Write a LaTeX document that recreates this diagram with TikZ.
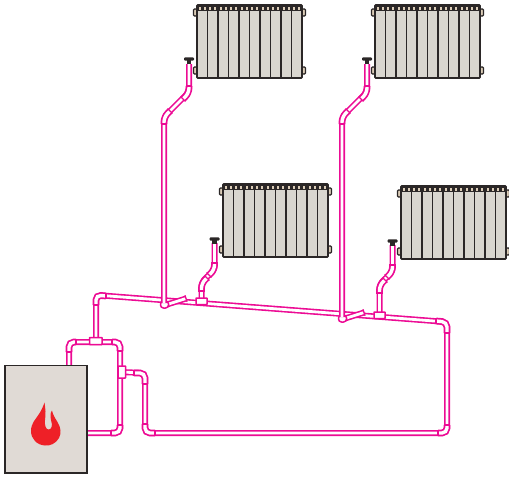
\documentclass[tikz,border=0pt]{standalone}
\usepackage{xcolor}
\definecolor{pipepink}{HTML}{EC0B94}
\definecolor{radgrey}{HTML}{D9D6CF}
\definecolor{lugtan}{HTML}{DCCDB8}
\definecolor{boilergrey}{HTML}{E0DAD5}
\definecolor{flamered}{HTML}{EE2027}
\definecolor{ironblack}{HTML}{2B2727}
\tikzset{
  pipe/.style={draw=pipepink, line width=1.6pt, double=white, double distance=2.8pt, rounded corners=5pt},
  fitting/.style={draw=pipepink, line width=1.7pt, double=white, double distance=3.4pt, rounded corners=5pt},
  pipetick/.style={draw=pipepink, line width=1.3pt},
  tee/.style={draw=pipepink, fill=white, line width=1.5pt, rounded corners=0.5pt},
  lug/.style={draw=ironblack, fill=lugtan, line width=1.2pt, rounded corners=1pt}
}
\begin{document}
\begin{tikzpicture}[x=1pt, y=-1pt]
  \useasboundingbox (0,0) rectangle (509,479);

  % supply from the boiler
  \draw[pipe] (69,366) -- (69,342) -- (120,342) -- (120,433) -- (86,433);
  \draw[pipe] (96,341) -- (96,295) -- (447,322) -- (447,433) -- (145,433) -- (145,373) -- (120,372);

  % tall risers
  \foreach \dx/\yb in {0/305, 178/319} {
    \draw[pipe] ({\dx+167},{\yb-0.5}) -- ({\dx+186},{\yb-6.5});
    \draw[tee, rounded corners=3pt] ({\dx+160.5},{\yb-4}) rectangle ({\dx+168.5},{\yb+3});
    \draw[pipe] ({\dx+189},64) -- ({\dx+189},92) -- ({\dx+164},117) -- ({\dx+164},{\yb-2});
    \draw[fitting] ({\dx+189},86) -- ({\dx+189},93) -- ({\dx+183},99);
    \draw[fitting] ({\dx+170},111) -- ({\dx+164},117) -- ({\dx+164},124);
  }

  % short risers
  \foreach \dx/\dy/\dt in {0/0/0, 178/14/2} {
    \draw[pipe] ({\dx+201.5},{\dy+301}) -- ({\dx+201.5},{\dt+282}) -- ({\dx+214.5},{\dt+270}) -- ({\dx+214.5},{\dt+243});
    \draw[fitting] ({\dx+201.5},{\dt+291}) -- ({\dx+201.5},{\dt+283}) -- ({\dx+207},{\dt+278});
    \draw[fitting] ({\dx+209},{\dt+275}) -- ({\dx+214.5},{\dt+270}) -- ({\dx+214.5},{\dt+263});
    \draw[tee] ({\dx+196},{\dy+298}) rectangle ({\dx+207},{\dy+304.5});
  }

  % elbows on the loop
  \draw[fitting] (96,305) -- (96,295) -- (106,296);
  \draw[fitting] (436,321) -- (447,322) -- (447,333);
  \draw[fitting] (447,425) -- (447,433) -- (438,433);
  \draw[fitting] (155,433) -- (145,433) -- (145,424);
  \draw[fitting] (145,384) -- (145,373) -- (134,373);
  \draw[fitting] (69,352) -- (69,342) -- (76,342);
  \draw[fitting] (112,342) -- (120,342) -- (120,351);
  \draw[fitting] (120,425) -- (120,433) -- (111,433);

  % tees
  \draw[tee] (89.5,337.5) rectangle (102,344.5);
  \draw[tee] (118,366) rectangle (125.5,378);

  \foreach \tx/\ty/\ta in {96/305/0, 106/296/90, 436/321/90, 447/333/0, 447/425/0, 438/433/90,
      155/433/90, 145/424/0, 145/384/0, 134/373/90, 69/352/0, 76/342/90, 112/342/90, 120/351/0,
      120/425/0, 111/433/90, 189/86/0, 183/99/-45, 170/111/-45, 164/124/0, 186/298.5/-72,
      367/86/0, 361/99/-45, 348/111/-45, 342/124/0, 364/312.5/-72,
      201.5/291/0, 207/278/-45, 209/275/-45, 214.5/263/0,
      379.5/293/0, 385/280/-45, 387/277/-45, 392.5/265/0} {
    \draw[pipetick, shift={(\tx,\ty)}, rotate=\ta] (-3.4,0) -- (3.4,0);
  }

  % radiators
  \foreach \rx/\ry in {197/5, 375/5, 223/184, 401/186} {
    \begin{scope}[shift={(\rx,\ry)}]
      \foreach \ly in {4, 62} {
        \draw[lug] (-3.5,\ly) rectangle (0,{\ly+7});
        \draw[lug] (105,\ly) rectangle (108.5,{\ly+7});
      }
      \draw[fill=radgrey, draw=ironblack, line width=1.6pt, rounded corners=0.8pt] (0,0) rectangle (105,73);
      \fill[ironblack] (0,0) rectangle (105,5.5);
      \foreach \i in {1,...,9} {
        \draw[ironblack, line width=1.7pt] ({\i*10.5},0) -- ({\i*10.5},73);
      }
      \foreach \i in {0,...,19} {
        \fill[lugtan] ({1.6+\i*5.25},2.2) rectangle ({3.6+\i*5.25},4.6);
      }
    \end{scope}
  }

  % valves
  \foreach \vx/\vy in {189/59, 367/59, 214.5/239, 392.5/241} {
    \fill[ironblack, rounded corners=1pt] ({\vx-5},{\vy-1.7}) rectangle ({\vx+5},{\vy+1.7});
    \fill[ironblack] ({\vx-2.2},\vy) rectangle ({\vx+2.2},{\vy+5});
  }

  % boiler
  \draw[fill=boilergrey, draw=ironblack, line width=1.4pt] (5,365.5) rectangle (87,473);
  \fill[flamered] (44.5,402.5) .. controls (45.5,410) and (46,413) .. (45,420)
    .. controls (44.5,426) and (46,429.5) .. (48.5,429.5)
    .. controls (51.5,429.5) and (53,426) .. (51,420)
    .. controls (50,416) and (50.5,412) .. (52,410.5)
    .. controls (53,415) and (55,418) .. (57.5,422)
    .. controls (61,428) and (61.5,433) .. (59,438)
    .. controls (56,443.5) and (50,446) .. (45,445.5)
    .. controls (37,445) and (31,439) .. (31,431)
    .. controls (31,423) and (36,419) .. (39,414)
    .. controls (41,411) and (43,407) .. (44.5,402.5) -- cycle;
\end{tikzpicture}
\end{document}
